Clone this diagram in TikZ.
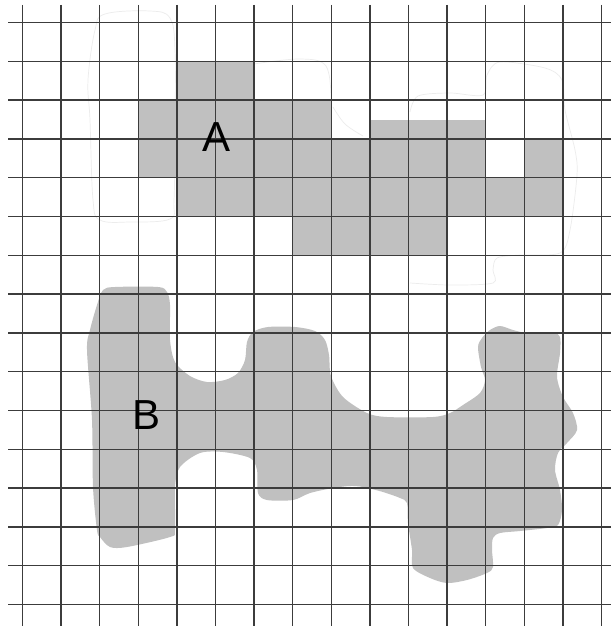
\documentclass[tikz,border=0pt]{standalone}
\usepackage{fontspec}
\setmainfont{Liberation Sans}
\definecolor{shade}{RGB}{192,192,192}
\definecolor{gridc}{RGB}{60,60,60}
\definecolor{faint}{RGB}{236,236,236}
\begin{document}
\begin{tikzpicture}[x=1pt,y=-1pt,
  cellfill/.style={fill=shade},
  gridline/.style={draw=gridc,line width=1.35pt},
  sketch/.style={draw=faint,line width=0.7pt},
  lbl/.style={font=\fontsize{42}{42}\selectfont,inner sep=0pt,text=black}]
\useasboundingbox (0,0) rectangle (611,626);
\fill[white] (0,0) rectangle (611,626);
% faint sketch outlines
\draw[sketch] plot[smooth cycle,tension=0.6] coordinates {(105,14) (150,11) (170,18) (175,50) (175,130) (174,200) (170,219) (130,222) (100,220) (93,200) (90,120) (88,80) (95,30)};
\draw[sketch] plot[smooth,tension=0.6] coordinates {(254,64) (300,59) (326,66) (331,100)};
\draw[sketch] plot[smooth,tension=0.6] coordinates {(333,107) (345,124) (363,136)};
\draw[sketch] plot[smooth,tension=0.5] coordinates {(410,112) (418,96) (450,93) (483,95) (487,75) (500,62) (545,68) (562,80) (565,110) (575,150) (577,175) (570,230) (560,253) (520,255) (497,258) (493,270) (493,283) (450,285) (410,283)};
% region A
\foreach \c/\r in {4/1,5/1,
  3/2,4/2,5/2,6/2,7/2,
  3/3,4/3,5/3,6/3,7/3,8/3,9/3,10/3,11/3,13/3,
  4/4,5/4,6/4,7/4,8/4,9/4,10/4,11/4,12/4,13/4,
  7/5,8/5,9/5,10/5}
  \fill[cellfill] ({22.5+38.6*\c},{22.5+38.8*\r}) rectangle ({22.5+38.6*(\c+1)},{22.5+38.8*(\r+1)});
\fill[cellfill] ({22.5+38.6*9},120) rectangle ({22.5+38.6*12},{22.5+38.8*3});
% region B
\fill[cellfill] plot[smooth cycle,tension=0.5] coordinates {
 (103,290) (115,287) (158,287) (167,292) (170,305) (170,340) (175,362) (190,376) (207,382) (225,380) (238,373) (245,360)
 (247,342) (253,332) (268,327) (295,327) (315,331) (325,340) (329,355) (331,376) (343,397) (367,413) (387,417) (433,417)
 (450,413) (463,405) (480,393) (485,380) (481,367) (478,347) (482,338) (490,330) (500,326) (513,330) (527,333) (553,333)
 (560,337) (560,353) (557,377) (563,397) (573,413) (577,430) (567,443) (558,453) (555,470) (560,490) (562,510) (558,525)
 (547,528) (520,531) (500,533) (493,538) (492,550) (493,567) (487,573) (467,580) (447,583) (430,578) (413,568) (412,550)
 (408,523) (407,503) (400,498) (383,492) (363,487) (350,486) (333,488) (310,493) (293,500) (267,500) (258,493) (257,470)
 (250,458) (223,452) (200,453) (180,467) (175,487) (175,530) (170,537) (127,547) (110,547) (100,537) (97,530) (93,487)
 (92,420) (87,350) (90,330) (97,305)};
% grid
\foreach \k in {0,...,15}
  \draw[gridline] ({22.5+38.6*\k},5) -- ({22.5+38.6*\k},626);
\foreach \k in {0,...,15}
  \draw[gridline] (8,{22.5+38.8*\k}) -- (611,{22.5+38.8*\k});
% labels
\node[lbl] (labelA) at (217,137) {A};
\node[lbl] (labelB) at (147,415) {B};
\end{tikzpicture}
\end{document}
